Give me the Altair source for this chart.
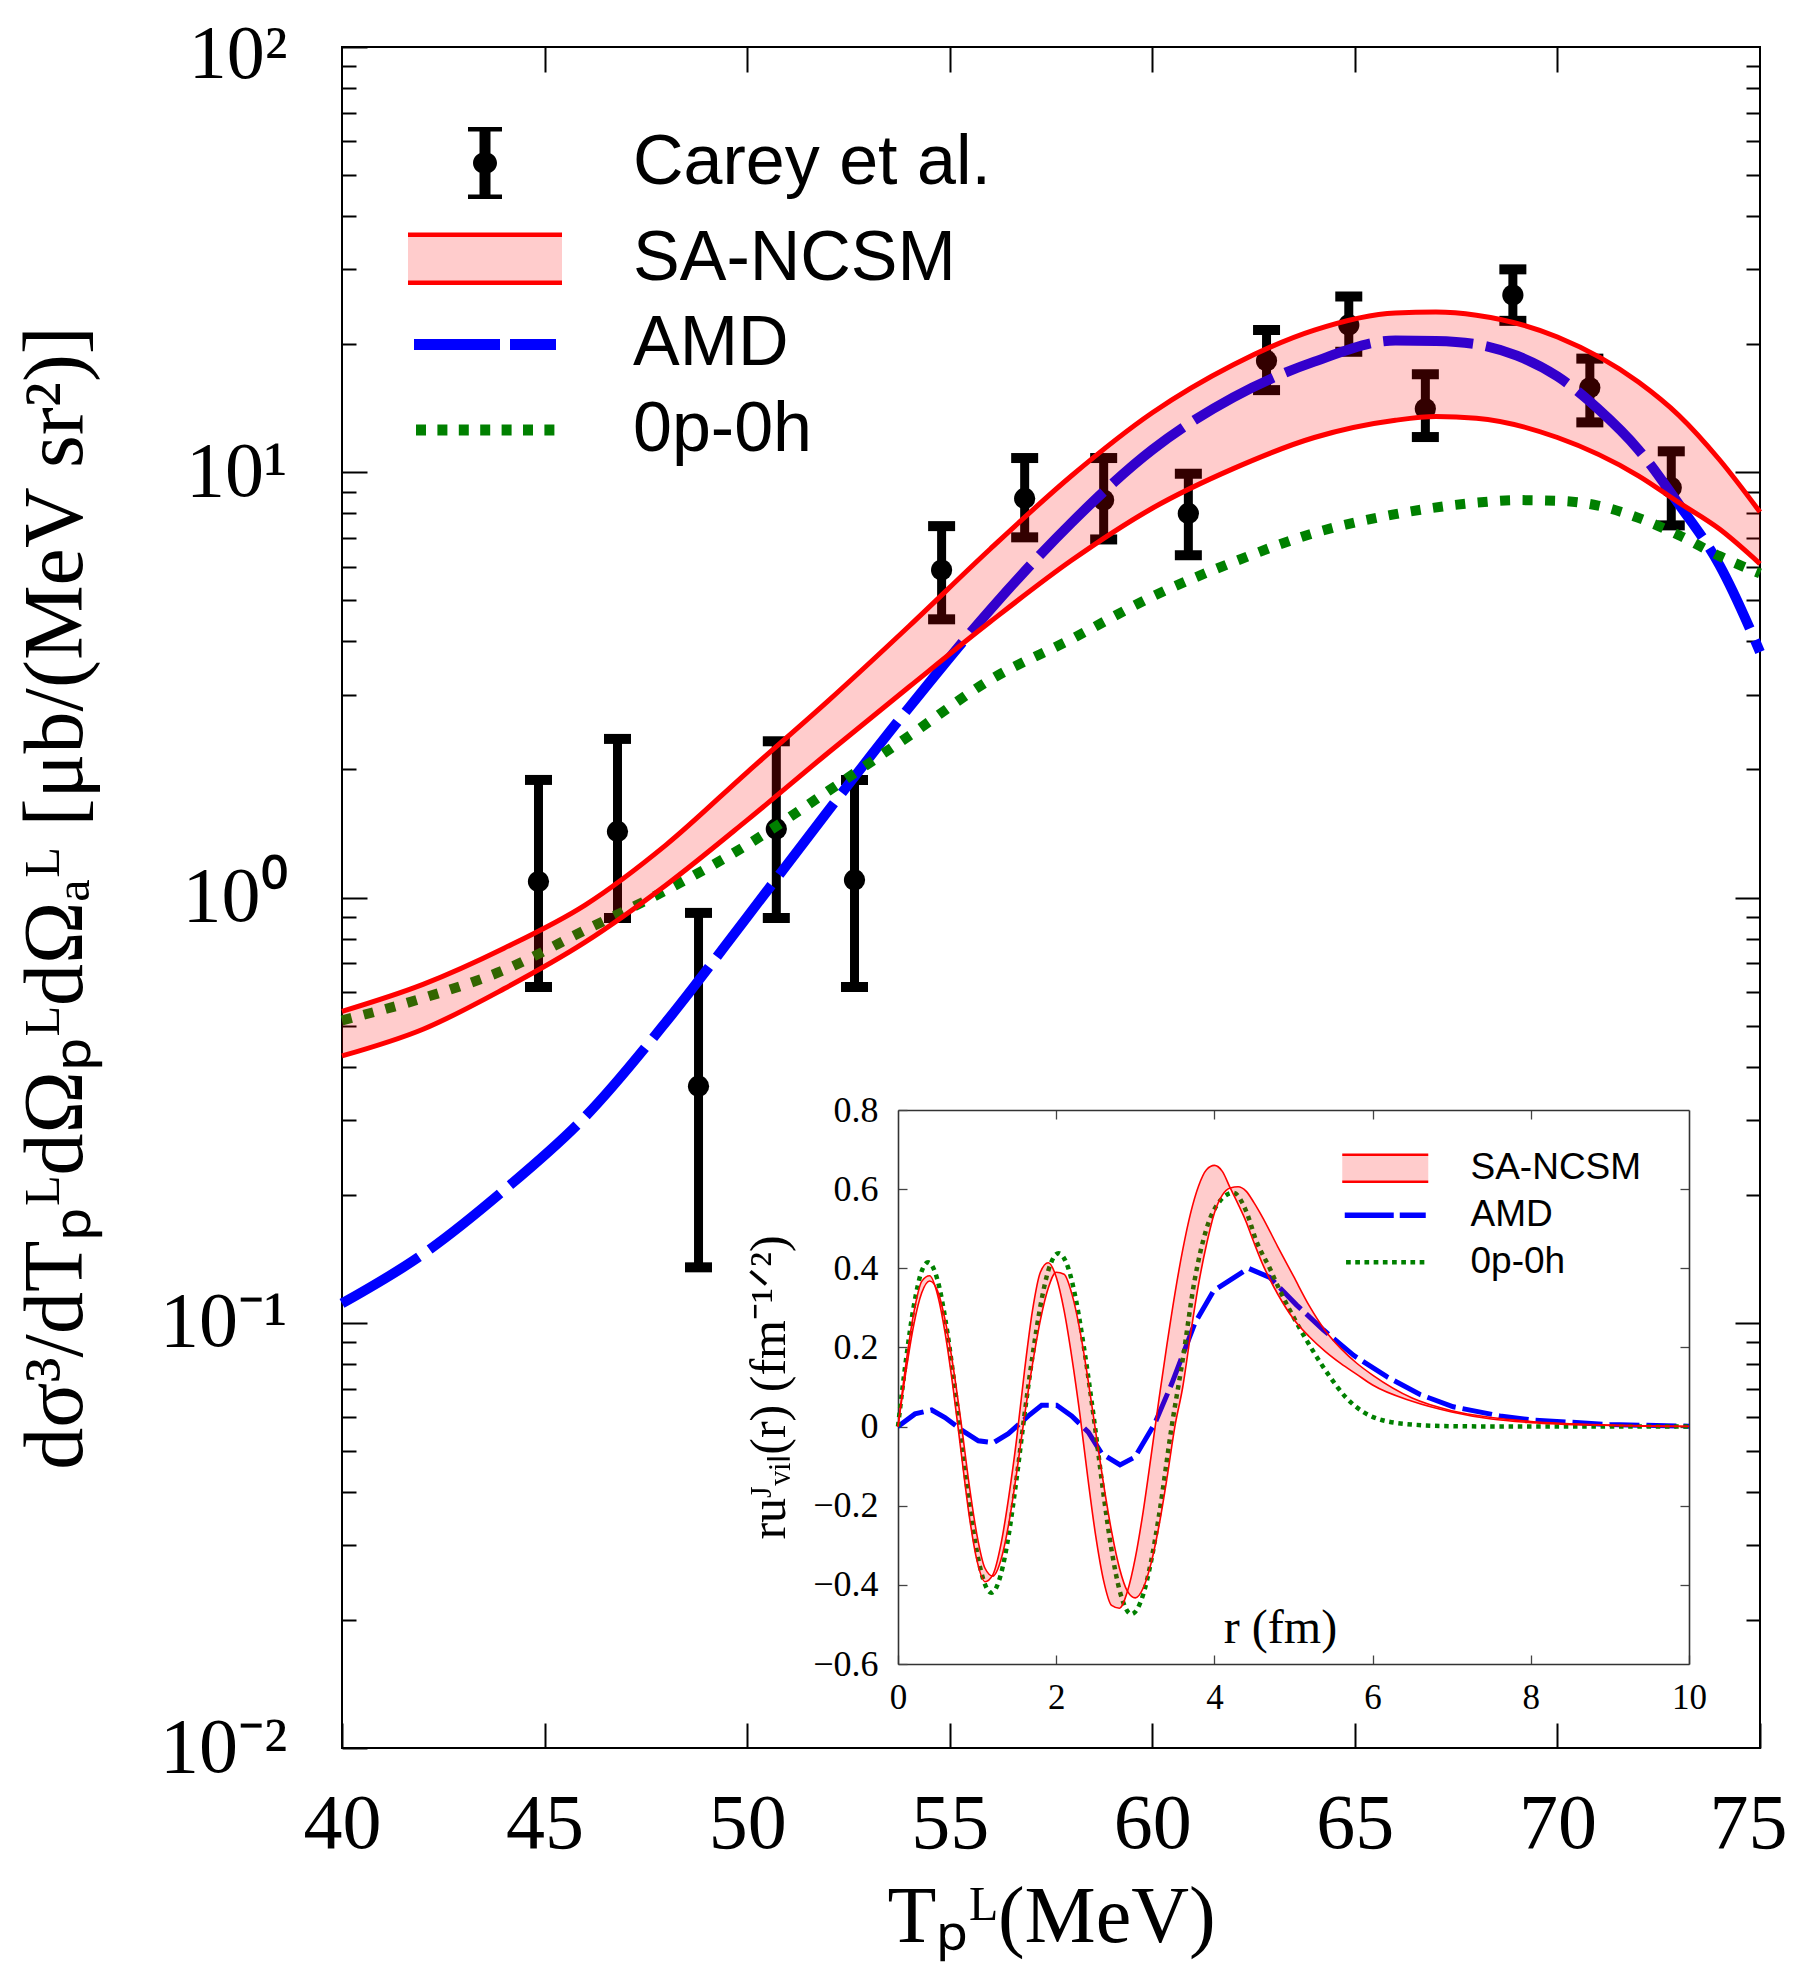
import altair as alt
import pandas as pd

SERIF = "Liberation Serif"
SANS = "Liberation Sans"

# ---------------- main panel data ----------------
T_exp   = [44.85, 46.8, 48.8, 50.72, 52.65, 54.8, 56.85, 58.8, 60.89, 62.82, 64.85, 66.74, 68.9, 70.8, 72.81]
sig_exp = [1.09, 1.43, 0.36, 1.45, 1.10, 5.89, 8.68, 8.6, 8.0, 18.3, 22.2, 14.1, 26.1, 15.8, 9.2]
sig_lo  = [0.616, 0.895, 0.135, 0.895, 0.616, 4.51, 7.03, 6.95, 6.38, 15.6, 19.2, 12.1, 22.7, 13.1, 7.5]
sig_hi  = [1.89, 2.36, 0.92, 2.33, 1.89, 7.47, 10.8, 10.8, 9.92, 21.6, 25.9, 17.0, 30.0, 18.5, 11.2]

T_sa  = [40, 42, 44, 46, 48, 50, 52, 54, 56, 58, 60, 62, 64, 66, 67, 68, 70, 72, 73, 74, 75]
sa_hi = [0.54, 0.625, 0.76, 0.96, 1.33, 1.97, 2.9, 4.35, 6.6, 9.8, 13.8, 17.9, 21.6, 23.7, 23.8, 23.4, 20.8, 16.3, 13.6, 10.7, 8.06]
sa_lo = [0.424, 0.49, 0.61, 0.785, 1.07, 1.52, 2.19, 3.13, 4.45, 6.2, 8.23, 10.2, 12.07, 13.25, 13.52, 13.4, 12.07, 9.81, 8.48, 7.35, 6.09]

T_amd = [40, 42, 44, 46, 48, 50, 52, 54, 56, 58, 60, 62, 64, 66, 67, 68, 69, 70, 71, 72, 73, 74, 75]
amd   = [0.111, 0.145, 0.205, 0.305, 0.51, 0.90, 1.6, 2.8, 4.75, 7.6, 11.3, 15.0, 18.2, 20.4, 20.35, 20.0, 18.8, 16.8, 14.1, 11.3, 8.4, 6.05, 3.78]

T_0p = [40, 42, 44, 46, 48, 50, 52, 54, 56, 58, 60, 62, 64, 66, 68, 69, 70, 71, 72, 73, 74, 75]
zp   = [0.514, 0.58, 0.675, 0.838, 1.04, 1.33, 1.78, 2.4, 3.25, 4.05, 5.1, 6.15, 7.2, 7.97, 8.48, 8.6, 8.57, 8.35, 7.81, 7.11, 6.35, 5.78]

# ---------------- inset data ----------------
r_sa = [0.0, 0.1, 0.2, 0.3, 0.4, 0.5, 0.6, 0.7, 0.8, 0.9,
        1.0, 1.1, 1.2, 1.3, 1.4, 1.5, 1.6, 1.7, 1.8, 1.9,
        2.0, 2.1, 2.2, 2.3, 2.4, 2.5, 2.6, 2.7, 2.8, 2.9,
        3.0, 3.1, 3.2, 3.3, 3.4, 3.5, 3.6, 3.7, 3.8, 3.9,
        4.0, 4.1, 4.2, 4.3, 4.4, 4.5, 4.6, 4.8, 5.0, 5.2,
        5.4, 5.6, 5.8, 6.0, 6.5, 7.0, 7.5, 8.0, 9.0, 10.0]
uA = [0.0, 0.158, 0.288, 0.367, 0.381, 0.333, 0.231, 0.092, -0.068, -0.225,
      -0.340, -0.392, -0.374, -0.299, -0.178, -0.031, 0.142, 0.293, 0.390, 0.414,
      0.378, 0.293, 0.172, 0.030, -0.130, -0.277, -0.390, -0.452, -0.459, -0.417,
      -0.332, -0.214, -0.074, 0.070, 0.207, 0.335, 0.447, 0.540, 0.608, 0.649,
      0.660, 0.645, 0.603, 0.562, 0.518, 0.465, 0.415, 0.335, 0.272, 0.227,
      0.190, 0.159, 0.132, 0.105, 0.064, 0.037, 0.019, 0.010, 0.003, 0.0]
uB = [0.0, 0.139, 0.258, 0.338, 0.368, 0.343, 0.265, 0.148, 0.007, -0.147,
      -0.276, -0.358, -0.378, -0.338, -0.246, -0.117, 0.027, 0.157, 0.269, 0.350,
      0.390, 0.385, 0.334, 0.243, 0.122, -0.014, -0.147, -0.265, -0.358, -0.416,
      -0.433, -0.408, -0.345, -0.250, -0.131, 0.0, 0.100, 0.235, 0.360, 0.460,
      0.540, 0.585, 0.603, 0.606, 0.595, 0.566, 0.532, 0.455, 0.380, 0.305,
      0.243, 0.197, 0.160, 0.130, 0.072, 0.040, 0.023, 0.013, 0.004, 0.001]

r_0p = [0, 0.1, 0.2, 0.3, 0.38, 0.5, 0.6, 0.7, 0.8, 0.9, 1.0, 1.1, 1.18, 1.3, 1.4, 1.5, 1.6, 1.7, 1.8, 1.9,
        2.03, 2.15, 2.25, 2.35, 2.49, 2.6, 2.7, 2.8, 2.95, 3.1, 3.2, 3.3, 3.46, 3.6, 3.75, 3.9, 4.07, 4.24,
        4.4, 4.53, 4.7, 4.83, 5.04, 5.25, 5.46, 5.67, 5.89, 6.09, 6.51, 7.0, 8.0, 10.0]
u_0p = [0, 0.167, 0.305, 0.393, 0.415, 0.370, 0.269, 0.128, -0.033, -0.191, -0.319, -0.399, -0.42, -0.374,
        -0.273, -0.130, 0.031, 0.178, 0.304, 0.394, 0.438, 0.402, 0.320, 0.201, 0.0, -0.174, -0.312, -0.413,
        -0.474, -0.424, -0.340, -0.224, 0.0, 0.17, 0.37, 0.50, 0.57, 0.591, 0.545, 0.469, 0.40, 0.343, 0.262,
        0.19, 0.126, 0.072, 0.036, 0.018, 0.005, 0.001, 0.0, 0.0]

r_amd = [0, 0.215, 0.426, 0.594, 0.805, 1.016, 1.205, 1.395, 1.648, 1.816, 2.006, 2.195, 2.406, 2.575,
         2.807, 2.996, 3.249, 3.46, 3.755, 3.99, 4.43, 4.70, 5.04, 5.38, 5.76, 6.18, 6.60, 7.02, 7.61,
         8.0, 9.0, 10.0]
u_amd = [0, 0.032, 0.042, 0.023, -0.009, -0.036, -0.041, -0.018, 0.027, 0.054, 0.054, 0.027, -0.014,
         -0.068, -0.097, -0.077, 0.009, 0.108, 0.262, 0.343, 0.40, 0.377, 0.307, 0.244, 0.18, 0.126,
         0.081, 0.050, 0.027, 0.017, 0.005, 0.001]

# ---------------- legend names and tick values ----------------
main_names = ["Carey et al.", "SA-NCSM", "AMD", "0p-0h"]
inset_names = ["SA-NCSM", "AMD", "0p-0h"]
x_ticks = [40, 45, 50, 55, 60, 65, 70]
x_last = [75]
x_inner = [45, 50, 55, 60, 65, 70]
y_major = [0.01, 0.1, 1, 10]
y_top = [100]
y_inner = [0.1, 1, 10]
y_minor = [0.02, 0.03, 0.04, 0.05, 0.06, 0.07, 0.08, 0.09,
           0.2, 0.3, 0.4, 0.5, 0.6, 0.7, 0.8, 0.9,
           2, 3, 4, 5, 6, 7, 8, 9,
           20, 30, 40, 50, 60, 70, 80, 90]
r_ticks = [0, 2, 4, 6, 8, 10]
r_inner = [2, 4, 6, 8]
u_ticks = [-0.6, -0.4, -0.2, 0, 0.2, 0.4, 0.6, 0.8]
u_inner = [-0.4, -0.2, 0, 0.2, 0.4, 0.6]

# ---------------- layout ----------------
W, H = 1418, 1701
IX0, IX1, IYB, IYT = 556, 1347, 1617, 1063

xs = alt.Scale(domain=[40, 75], nice=False, zero=False)
ys = alt.Scale(type="log", domain=[0.01, 100], nice=False)
rxs = alt.Scale(domain=[0, 10], range=[IX0, IX1], nice=False, zero=False)
rys = alt.Scale(domain=[-0.6, 0.8], range=[IYB, IYT], nice=False, zero=False)

RED, BLUE, GREEN = "#ff0000", "#0000ff", "#008000"

# ---------------- main panel marks ----------------
df_exp = pd.DataFrame({"T": T_exp, "s": sig_exp, "lo": sig_lo, "hi": sig_hi})
df_sa = pd.DataFrame({"T": T_sa, "hi": sa_hi, "lo": sa_lo})
df_amd = pd.DataFrame({"T": T_amd, "v": amd})
df_0p = pd.DataFrame({"T": T_0p, "v": zp})

X = lambda: alt.X("T:Q", scale=xs, axis=None)

bars = alt.Chart(df_exp).mark_rule(color="black", strokeWidth=9).encode(
    x=X(), y=alt.Y("lo:Q", scale=ys, axis=None), y2="hi:Q")
cap_lo = alt.Chart(df_exp).mark_tick(orient="horizontal", color="black", size=27, thickness=10, opacity=1).encode(
    x=X(), y=alt.Y("lo:Q", scale=ys, axis=None))
cap_hi = alt.Chart(df_exp).mark_tick(orient="horizontal", color="black", size=27, thickness=10, opacity=1).encode(
    x=X(), y=alt.Y("hi:Q", scale=ys, axis=None))
pts = alt.Chart(df_exp).mark_circle(color="black", size=450, opacity=1).encode(
    x=X(), y=alt.Y("s:Q", scale=ys, axis=None))
amd_line = alt.Chart(df_amd).mark_line(color=BLUE, strokeWidth=10, strokeDash=[90, 13], interpolate="monotone").encode(
    x=X(), y=alt.Y("v:Q", scale=ys, axis=None))
zp_line = alt.Chart(df_0p).mark_line(color=GREEN, strokeWidth=10, strokeDash=[10, 12.5], interpolate="monotone").encode(
    x=X(), y=alt.Y("v:Q", scale=ys, axis=None))
band = alt.Chart(df_sa).mark_area(color=RED, opacity=0.2, interpolate="monotone").encode(
    x=X(), y=alt.Y("hi:Q", scale=ys, axis=None), y2="lo:Q")
up_line = alt.Chart(df_sa).mark_line(color=RED, strokeWidth=5, interpolate="monotone").encode(
    x=X(), y=alt.Y("hi:Q", scale=ys, axis=None))
lo_line = alt.Chart(df_sa).mark_line(color=RED, strokeWidth=5, interpolate="monotone").encode(
    x=X(), y=alt.Y("lo:Q", scale=ys, axis=None))

main = alt.layer(bars, cap_lo, cap_hi, pts, amd_line, zp_line, band, up_line, lo_line)

# ---------------- inset marks ----------------
df_isa = pd.DataFrame({"r": r_sa, "a": uA, "b": uB})
df_i0p = pd.DataFrame({"r": r_0p, "u": u_0p})
df_iamd = pd.DataFrame({"r": r_amd, "u": u_amd})
RX = lambda: alt.X("r:Q", scale=rxs, axis=None)

i_band = alt.Chart(df_isa).mark_area(color=RED, opacity=0.2, interpolate="monotone").encode(
    x=RX(), y=alt.Y("a:Q", scale=rys, axis=None), y2="b:Q")
i_a = alt.Chart(df_isa).mark_line(color=RED, strokeWidth=1.6, interpolate="monotone").encode(
    x=RX(), y=alt.Y("a:Q", scale=rys, axis=None))
i_b = alt.Chart(df_isa).mark_line(color=RED, strokeWidth=1.6, interpolate="monotone").encode(
    x=RX(), y=alt.Y("b:Q", scale=rys, axis=None))
i_amd = alt.Chart(df_iamd).mark_line(color=BLUE, strokeWidth=5, strokeDash=[30, 7]).encode(
    x=RX(), y=alt.Y("u:Q", scale=rys, axis=None))
i_0p = alt.Chart(df_i0p).mark_line(color=GREEN, strokeWidth=4.5, strokeDash=[4.5, 4.7], interpolate="monotone").encode(
    x=RX(), y=alt.Y("u:Q", scale=rys, axis=None))

inset = alt.layer(i_amd, i_0p, i_band, i_a, i_b)

# ---------------- axes (frame ticks drawn inward) ----------------
dummy = pd.DataFrame({"a": [1.0], "b": [1.0]})


def axis_layer(x=None, y=None):
    enc = {}
    if x is not None:
        enc["x"] = x
    if y is not None:
        enc["y"] = y
    return alt.Chart(dummy).mark_point(opacity=0).encode(**enc).transform_filter("false")


TICK = dict(grid=False, domain=False, tickColor="black", tickWidth=2)
YLAB = ("datum.value > 50 ? '10²' : datum.value > 5 ? '10¹' : datum.value > 0.5 ? '10⁰' : "
        "datum.value > 0.05 ? '10⁻¹' : '10⁻²'")

ax1 = axis_layer(
    x=alt.X("a:Q", scale=xs, axis=alt.Axis(
        orient="bottom", values=x_ticks, offset=-25, tickSize=25, format="d",
        labelFont=SERIF, labelFontSize=78, labelPadding=37,
        title="Tₚᴸ(MeV)", titleFont=SERIF, titleFontSize=80, titlePadding=15, **TICK)),
    y=alt.Y("b:Q", scale=ys, axis=alt.Axis(
        orient="left", values=y_major, offset=-25, tickSize=25, labelExpr=YLAB,
        labelFont=SERIF, labelFontSize=78, labelPadding=55, labelBaseline="middle",
        title="dσ³/dTₚᴸdΩₚᴸdΩₐᴸ [μb/(MeV sr²)]", titleFont=SERIF, titleFontSize=84,
        titlePadding=60, **TICK)))
ax2 = axis_layer(
    x=alt.X("a:Q", scale=xs, axis=alt.Axis(orient="top", values=x_inner, offset=-25, tickSize=25,
                                           labels=False, title=None, **TICK)),
    y=alt.Y("b:Q", scale=ys, axis=alt.Axis(orient="left", values=y_minor, offset=-14, tickSize=14,
                                           labels=False, title=None, **TICK)))
ax3 = axis_layer(
    x=alt.X("a:Q", scale=xs, axis=alt.Axis(orient="bottom", values=x_last, offset=-25, tickSize=25,
                                           format="d", labelFont=SERIF, labelFontSize=78,
                                           labelPadding=37, labelOffset=-12, title=None, **TICK)),
    y=alt.Y("b:Q", scale=ys, axis=alt.Axis(orient="right", values=y_inner, offset=-25, tickSize=25,
                                           labels=False, title=None, **TICK)))
ax4 = axis_layer(
    y=alt.Y("b:Q", scale=ys, axis=alt.Axis(orient="right", values=y_minor, offset=-14, tickSize=14,
                                           labels=False, title=None, **TICK)))
ax5 = axis_layer(
    y=alt.Y("b:Q", scale=ys, axis=alt.Axis(orient="left", values=y_top, offset=-25, tickSize=25,
                                           labelExpr=YLAB, labelFont=SERIF, labelFontSize=76,
                                           labelPadding=55, labelBaseline="middle", labelOffset=7,
                                           title=None, **TICK)))

ITICK = dict(grid=False, domain=False, tickColor="#444444", tickWidth=1.3)
IDOM = dict(grid=False, domain=True, domainColor="#333333", domainWidth=1.6, ticks=False, labels=False)

ix1 = axis_layer(
    x=alt.X("a:Q", scale=rxs, axis=alt.Axis(
        orient="bottom", values=r_ticks, offset=-(H - IYB) - 9, tickSize=9, format="d",
        labelFont=SERIF, labelFontSize=35, labelPadding=16, title=None, **ITICK)),
    y=alt.Y("b:Q", scale=rys, axis=alt.Axis(
        orient="left", values=u_ticks, offset=-(IX0 + 9), tickSize=9,
        labelExpr="datum.value == 0 ? '0' : format(datum.value, '.1f')",
        labelFont=SERIF, labelFontSize=36, labelPadding=20, labelBaseline="middle",
        title="ruᴶᵥᵢₗ(r)  (fm⁻¹ᐟ²)", titleFont=SERIF, titleFontSize=50, titlePadding=18, **ITICK)))
ix2 = axis_layer(
    x=alt.X("a:Q", scale=rxs, axis=alt.Axis(orient="top", values=r_inner, offset=-(IYT + 9), tickSize=9,
                                            labels=False, title=None, **ITICK)),
    y=alt.Y("b:Q", scale=rys, axis=alt.Axis(orient="right", values=u_inner, offset=(IX1 - 9) - W, tickSize=9,
                                            labels=False, title=None, **ITICK)))
ix3 = axis_layer(
    x=alt.X("a:Q", scale=rxs, axis=alt.Axis(orient="bottom", offset=-(H - IYB), title="r  (fm)",
                                            titleFont=SERIF, titleFontSize=48, titleX=938, titleY=-36,
                                            titleBaseline="middle", titleAlign="center", **IDOM)),
    y=alt.Y("b:Q", scale=rys, axis=alt.Axis(orient="left", offset=-IX0, title=None, **IDOM)))
ix4 = axis_layer(
    x=alt.X("a:Q", scale=rxs, axis=alt.Axis(orient="top", offset=-IYT, title=None, **IDOM)),
    y=alt.Y("b:Q", scale=rys, axis=alt.Axis(orient="right", offset=IX1 - W, title=None, **IDOM)))

# ---------------- legends ----------------
ERR = ("M-0.1375,-0.9H0.1375V0.9H-0.1375Z "
       "M-0.425,-0.9H0.425V-0.79H-0.425Z "
       "M-0.425,0.79H0.425V0.9H-0.425Z "
       "M-0.3,0A0.3,0.275,0,1,1,0.3,0A0.3,0.275,0,1,1,-0.3,0Z")
BAND = "M-1.925,-0.6H1.925V0.6H-1.925Z"
AMD_S = "M-1.775,-0.1375H0.375V0.1375H-1.775Z M0.625,-0.1375H1.775V0.1375H0.625Z"
ZP_S = " ".join("M%.4f,-0.1375h0.25v0.275h-0.25Z" % (-1.725 + 0.535 * i) for i in range(7))

BAND_I = "M-2.15,-0.675H2.15V0.675H-2.15Z"
AMD_I = "M-2.025,-0.1375H0.425V0.1375H-2.025Z M0.725,-0.1375H2.025V0.1375H0.725Z"
ZP_I = " ".join("M%.4f,-0.1175h0.235v0.235h-0.235Z" % (-1.96 + 0.46 * i) for i in range(9))


def make_legend(x, y, size, sw, fs, loff, rpad):
    return alt.Legend(orient="none", legendX=x, legendY=y, title=None, padding=0, offset=0,
                      symbolSize=size, symbolStrokeWidth=sw, symbolFillColor="black", symbolOpacity=1,
                      labelFont=SANS, labelFontSize=fs, labelColor="black", labelOffset=loff,
                      labelLimit=3000, rowPadding=rpad, columns=1, direction="vertical")


mleg = make_legend(100.5, 73.5, 6400, 4.5, 70, 105.5, 7.7)
leg_main = alt.Chart(pd.DataFrame({"series": main_names})).mark_point(opacity=1).encode(
    shape=alt.Shape("series:N", scale=alt.Scale(domain=main_names, range=[ERR, BAND, AMD_S, ZP_S]), legend=mleg),
    fill=alt.Fill("series:N", scale=alt.Scale(domain=main_names, range=["black", "#ffcccc", BLUE, GREEN]), legend=mleg),
    stroke=alt.Stroke("series:N", scale=alt.Scale(domain=main_names, range=["transparent", RED, "transparent", "transparent"]), legend=mleg),
    strokeDash=alt.StrokeDash("series:N", scale=alt.Scale(domain=main_names, range=[[1, 0], [154, 48], [1, 0], [1, 0]]), legend=mleg),
).transform_filter("false")

ileg = make_legend(1021.75, 1099.75, 1600, 2.5, 37, 63.75, 7)
leg_inset = alt.Chart(pd.DataFrame({"iseries": inset_names})).mark_point(opacity=1).encode(
    shape=alt.Shape("iseries:N", scale=alt.Scale(domain=inset_names, range=[BAND_I, AMD_I, ZP_I]), legend=ileg),
    fill=alt.Fill("iseries:N", scale=alt.Scale(domain=inset_names, range=["#ffcccc", BLUE, GREEN]), legend=ileg),
    stroke=alt.Stroke("iseries:N", scale=alt.Scale(domain=inset_names, range=[RED, "transparent", "transparent"]), legend=ileg),
    strokeDash=alt.StrokeDash("iseries:N", scale=alt.Scale(domain=inset_names, range=[[86, 27], [1, 0], [1, 0]]), legend=ileg),
).transform_filter("false")

chart = alt.layer(
    main, inset, ax1, ax2, ax3, ax4, ax5, ix1, ix2, ix3, ix4, leg_main, leg_inset
).resolve_scale(
    x="independent", y="independent", shape="independent", fill="independent",
    stroke="independent", strokeDash="independent"
).resolve_axis(
    x="independent", y="independent"
).resolve_legend(
    shape="independent", fill="independent", stroke="independent", strokeDash="independent"
).properties(
    width=W, height=H,
    padding={"left": 334, "top": 39, "right": 28, "bottom": 218},
    autosize=alt.AutoSizeParams(type="none"),
).configure_view(
    stroke="black", strokeWidth=2
).configure_axis(
    grid=False, labelColor="black", titleColor="black", titleFontWeight="normal",
    labelFlush=False, labelOverlap=False, maxExtent=4000, minExtent=0
)

chart.save("out.html", embed_options={"renderer": "svg", "actions": False})
